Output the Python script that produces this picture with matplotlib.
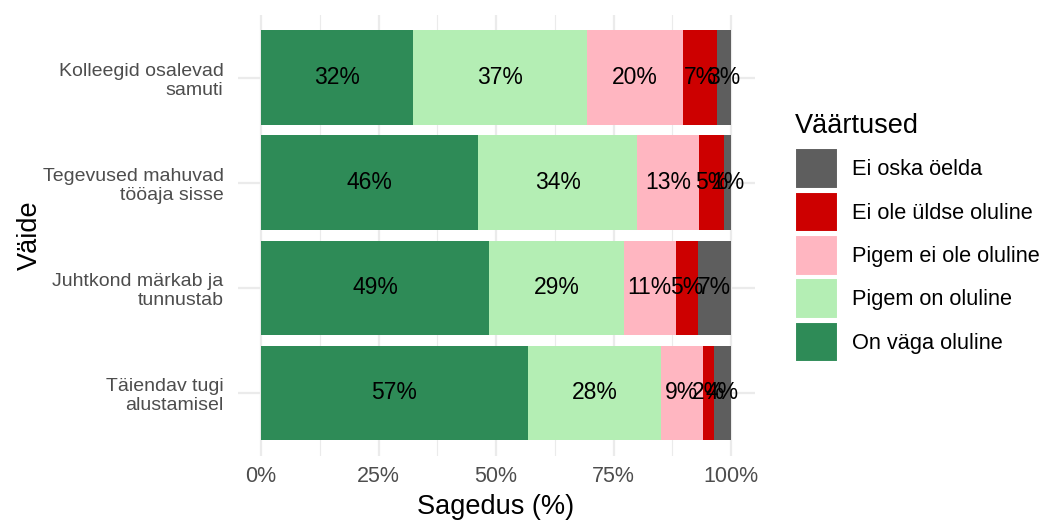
import numpy as np
import matplotlib
matplotlib.use('Agg')
import matplotlib.pyplot as plt
from matplotlib.patches import Patch

plt.rcParams['font.family'] = ['Liberation Sans', 'DejaVu Sans']

# Statements, top to bottom
statements = ['Kolleegid osalevad\nsamuti',
              'Tegevused mahuvad\ntööaja sisse',
              'Juhtkond märkab ja\ntunnustab',
              'Täiendav tugi\nalustamisel']

# Answer categories in stacking order (left to right)
categories = ['On väga oluline', 'Pigem on oluline', 'Pigem ei ole oluline',
              'Ei ole üldse oluline', 'Ei oska öelda']
colors = ['#2E8B57', '#B4EEB4', '#FFB6C1', '#CD0000', '#5E5E5E']

# Percentages per category, one value per statement
on_vaga = [32.3, 46.2, 48.6, 56.8]
pigem_on = [37.1, 33.8, 28.6, 28.3]
pigem_ei = [20.4, 13.2, 11.0, 8.9]
ei_ole = [7.2, 5.4, 4.8, 2.3]
ei_oska = [3.0, 1.4, 7.0, 3.6]

series = [on_vaga, pigem_on, pigem_ei, ei_ole, ei_oska]

fig = plt.figure(figsize=(10.45, 5.2), dpi=100)
ax = fig.add_axes([237.5 / 1045, 1 - 456 / 520, 517 / 1045, 441.5 / 520])

y = np.arange(len(statements))[::-1] + 1
left = np.zeros(len(statements))
for vals, col in zip(series, colors):
    vals = np.array(vals)
    ax.barh(y, vals, left=left, height=0.9, color=col, zorder=2)
    for yi, l, v in zip(y, left, vals):
        ax.text(l + v / 2, yi, f'{round(v):.0f}%', ha='center', va='center',
                fontsize=16.5, color='black', zorder=3)
    left += vals

ax.set_xlim(-5, 105)
ax.set_ylim(0.4, len(statements) + 0.6)
ax.set_xticks([0, 25, 50, 75, 100])
ax.set_xticklabels(['0%', '25%', '50%', '75%', '100%'])
ax.set_xticks([12.5, 37.5, 62.5, 87.5], minor=True)
ax.set_yticks(y)
ax.set_yticklabels(statements, linespacing=1.15)
ax.tick_params(axis='both', which='both', length=0, labelcolor='#4D4D4D')
ax.tick_params(axis='x', labelsize=15.5, pad=7)
ax.tick_params(axis='y', labelsize=14, pad=10)
ax.grid(True, which='major', color='#EBEBEB', lw=1.6, zorder=0)
ax.grid(True, which='minor', axis='x', color='#EBEBEB', lw=0.8, zorder=0)
for s in ax.spines.values():
    s.set_visible(False)

ax.set_xlabel('Sagedus (%)', fontsize=19.5, labelpad=5)
ax.set_ylabel('Väide', fontsize=19.5, labelpad=0)

handles = [Patch(facecolor=c, edgecolor='white', lw=1.5, label=l)
           for c, l in zip(colors[::-1], categories[::-1])]
leg = fig.legend(handles=handles, title='Väärtused', loc='upper left',
                 bbox_to_anchor=(786 / 1045, 1 - 104 / 520), frameon=False,
                 fontsize=15.7, title_fontsize=19.5, handlelength=1.98,
                 handleheight=2.48, labelspacing=0.13, handletextpad=0.65,
                 alignment='left', borderaxespad=0)
# a bit more room between title and keys
leg._legend_box.sep = 7

fig.savefig('out.png', dpi=100)
